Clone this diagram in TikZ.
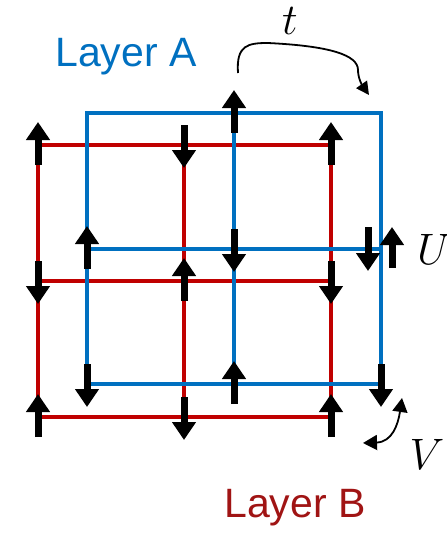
\RequirePackage{fix-cm}
\documentclass[tikz,border=0pt]{standalone}
\usepackage{fontspec}
\setmainfont{Liberation Sans}
\usepackage{amsmath}
\usetikzlibrary{arrows.meta,positioning,calc}
\definecolor{cBlue}{RGB}{0,112,192}
\definecolor{cRed}{RGB}{192,0,0}
\definecolor{cDarkRed}{RGB}{160,20,20}
\tikzset{
	latA/.style={draw=cBlue,line width=3.5pt,line cap=rect},
	latB/.style={draw=cRed,line width=3.5pt,line cap=rect},
	spin/.style={-{Triangle[length=18pt,width=23pt]},line width=7pt,draw=black},
	hop/.style={-{Triangle[length=13pt,width=13pt]},line width=1.8pt,draw=black},
	hopboth/.style={{Triangle[length=14pt,width=15pt]}-{Triangle[length=14pt,width=15pt]},
		line width=1.8pt,draw=black},
	laytxt/.style={font=\fontsize{41}{45}\selectfont},
	mlab/.style={font=\fontsize{44}{48}\selectfont},
}

\begin{document}
\begin{tikzpicture}[x=1pt,y=-1pt]
	\useasboundingbox (0,0) rectangle (447,533);
	\foreach \c/\x in {1/38,2/184,3/331}{
		\foreach \r/\y in {1/145,2/281,3/417}{
			\coordinate (B\r\c) at (\x,\y);
		}
	}
	\foreach \c/\x in {1/87,2/234,3/381}{
		\foreach \r/\y in {1/113,2/249,3/384}{
			\coordinate (A\r\c) at (\x,\y);
		}
	}
	\foreach \i in {1,2,3}{
		\draw[latB] (B\i1) -- (B\i3);
		\draw[latB] (B1\i) -- (B3\i);
	}
	\foreach \i in {1,2,3}{
		\draw[latA] (A\i1) -- (A\i3);
		\draw[latA] (A1\i) -- (A3\i);
	}
	\foreach \s in {B11,B13,B22,B31,B33,A12,A21,A32}
		\draw[spin] ($(\s)+(0,20)$) -- ($(\s)+(0,-23)$);
	\foreach \s in {B12,B21,B23,B32,A22,A31,A33}
		\draw[spin] ($(\s)+(0,-20)$) -- ($(\s)+(0,23)$);
	\draw[spin] ($(A23)+(-13,-22)$) -- ($(A23)+(-13,22)$);
	\draw[spin] ($(A23)+(11,19)$) -- ($(A23)+(11,-22)$);

	\node[laytxt,text=cBlue] (layA) at (126,57) {Layer A};
	\node[laytxt,text=cDarkRed] (layB) at (295,508) {Layer B};
	\node[mlab] (tlab) at (290,21) {$t$};
	\node[mlab] (Ulab) at (434,249) {$U$};
	\node[mlab] (Vlab) at (427,454) {$V$};

	\coordinate (hs) at ($(A12)+(4,-40)$);
	\coordinate (he) at ($(A13)+(-12,-18)$);
	\draw[hop] (hs) .. controls (236,45) and (248,43) .. (268,43)
		.. controls (330,46) and (358,55) .. (358,70)
		.. controls (358,78) and (362,85) .. (he);
	\coordinate (vs) at ($(A33)+(21,14)$);
	\coordinate (ve) at ($(B33)+(32,26)$);
	\draw[hopboth] (vs) .. controls (398,425) and (392,442) .. (ve);
\end{tikzpicture}
\end{document}
